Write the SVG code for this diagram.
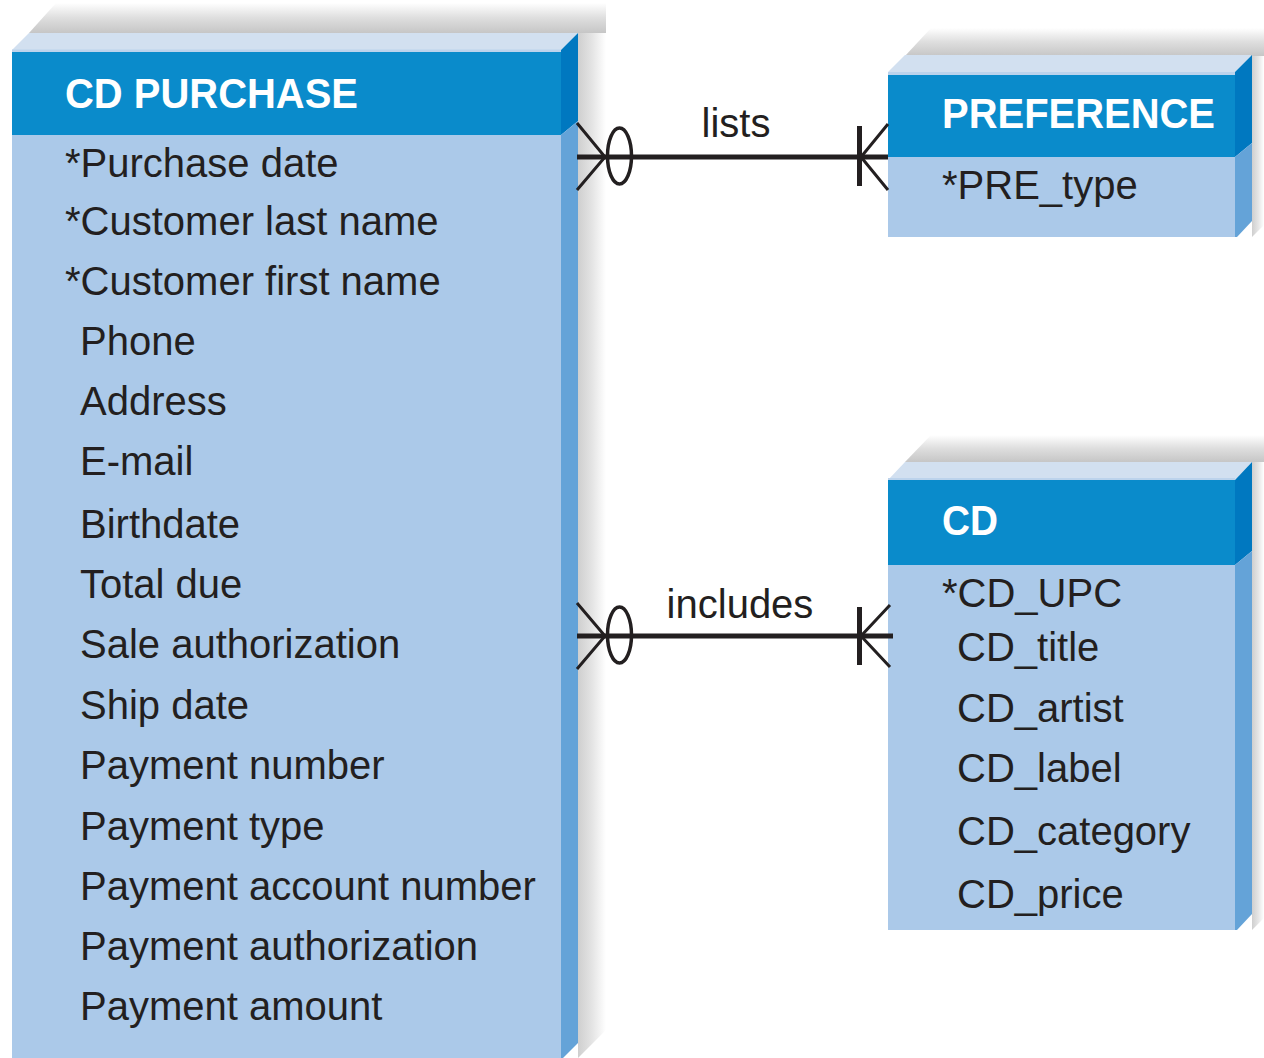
<svg xmlns="http://www.w3.org/2000/svg" width="1264" height="1058" viewBox="0 0 1264 1058">
<defs>
<linearGradient id="shTop" x1="0" y1="1" x2="0" y2="0">
<stop offset="0" stop-color="#c6c6c6"/>
<stop offset="0.5" stop-color="#dedede"/>
<stop offset="1" stop-color="#ffffff"/>
</linearGradient>
<linearGradient id="shRight" x1="0" y1="0" x2="1" y2="0">
<stop offset="0" stop-color="#cfcfcf"/>
<stop offset="0.5" stop-color="#e4e4e4"/>
<stop offset="1" stop-color="#ffffff"/>
</linearGradient>
<style>
.top{fill:#d2e0f0}
.seam{fill:#bcd3ec}
.hdr{fill:#0a8bcb}
.body{fill:#abc9e9}
.sideD{fill:#0078c0}
.sideL{fill:#64a3d8}
.shT{fill:url(#shTop)}
.shR{fill:url(#shRight)}
.title{font-family:"Liberation Sans",Arial,sans-serif;font-weight:bold;font-size:42px;fill:#ffffff}
.attr{font-family:"Liberation Sans",Arial,sans-serif;font-size:40px;fill:#231f20}
.lbl{font-family:"Liberation Sans",Arial,sans-serif;font-size:40px;fill:#231f20;text-anchor:middle}
.ln{stroke:#231f20;stroke-width:5;fill:none}
.ft{stroke:#231f20;stroke-width:3;fill:none}
.ov{stroke:#231f20;stroke-width:3.5;fill:none}
</style>
</defs>
<rect width="1264" height="1058" fill="#ffffff"/>

<g id="cd-purchase">
<polygon class="shT" points="29,33 56,3 606,3 606,33"/>
<polygon class="shR" points="578,33 606,33 606,1030 578,1058"/>
<polygon class="top" points="12,50 29,33 578,33 561,50"/>
<rect class="seam" x="12" y="49.5" width="549" height="2.5"/>
<rect class="hdr" x="12" y="52" width="549" height="83"/>
<rect class="body" x="12" y="135" width="549" height="923"/>
<polygon class="sideD" points="561,50 578,33 578,121 561,135"/>
<polygon class="sideL" points="561,135 578,121 578,1043 563,1058 561,1058"/>
<text class="title" x="65" y="108" textLength="293" lengthAdjust="spacingAndGlyphs">CD PURCHASE</text>
<text class="attr" x="65" y="177">*Purchase date</text>
<text class="attr" x="65" y="235">*Customer last name</text>
<text class="attr" x="65" y="295">*Customer first name</text>
<text class="attr" x="80" y="355">Phone</text>
<text class="attr" x="80" y="415">Address</text>
<text class="attr" x="80" y="475">E-mail</text>
<text class="attr" x="80" y="538">Birthdate</text>
<text class="attr" x="80" y="598">Total due</text>
<text class="attr" x="80" y="658">Sale authorization</text>
<text class="attr" x="80" y="719">Ship date</text>
<text class="attr" x="80" y="779">Payment number</text>
<text class="attr" x="80" y="840">Payment type</text>
<text class="attr" x="80" y="900">Payment account number</text>
<text class="attr" x="80" y="960">Payment authorization</text>
<text class="attr" x="80" y="1020">Payment amount</text>
</g>

<g id="preference">
<polygon class="shT" points="905,56 931,28 1264,28 1264,56"/>
<polygon class="shR" points="1252,56 1264,56 1264,225 1252,237"/>
<polygon class="top" points="888,72 905,55 1252,55 1235,72"/>
<rect class="seam" x="888" y="72" width="347" height="3"/>
<rect class="hdr" x="888" y="75" width="347" height="82"/>
<rect class="body" x="888" y="157" width="347" height="80"/>
<polygon class="sideD" points="1235,72 1252,55 1252,143 1235,157"/>
<polygon class="sideL" points="1235,157 1252,143 1252,221 1237,237 1235,237"/>
<text class="title" x="942" y="128" textLength="273" lengthAdjust="spacingAndGlyphs">PREFERENCE</text>
<text class="attr" x="942" y="199">*PRE_type</text>
</g>

<g id="cd">
<polygon class="shT" points="905,462 931,435 1264,435 1264,462"/>
<polygon class="shR" points="1252,462 1264,462 1264,918 1252,930"/>
<polygon class="top" points="888,480 905,462 1252,462 1235,480"/>
<rect class="seam" x="888" y="478" width="347" height="3"/>
<rect class="hdr" x="888" y="480" width="347" height="85"/>
<rect class="body" x="888" y="565" width="347" height="365"/>
<polygon class="sideD" points="1235,480 1252,462 1252,551 1235,565"/>
<polygon class="sideL" points="1235,565 1252,551 1252,914 1237,930 1235,930"/>
<text class="title" x="942" y="535" textLength="56" lengthAdjust="spacingAndGlyphs">CD</text>
<text class="attr" x="942" y="607">*CD_UPC</text>
<text class="attr" x="957" y="661">CD_title</text>
<text class="attr" x="957" y="722">CD_artist</text>
<text class="attr" x="957" y="782">CD_label</text>
<text class="attr" x="957" y="845">CD_category</text>
<text class="attr" x="957" y="908">CD_price</text>
</g>

<g id="connectors">
<g id="lists">
<line class="ln" x1="577" y1="157" x2="888" y2="157"/>
<polyline class="ft" points="577,123 605,157 577,190"/>
<ellipse class="ov" cx="619.5" cy="156" rx="12" ry="28"/>
<line class="ln" x1="859.5" y1="126" x2="859.5" y2="186"/>
<polyline class="ft" points="888,124 861,157 888,190"/>
<text class="lbl" x="736" y="137">lists</text>
</g>
<g id="includes">
<line class="ln" x1="577" y1="636" x2="893" y2="636"/>
<polyline class="ft" points="577,603 605,636 577,669"/>
<ellipse class="ov" cx="619.5" cy="635" rx="12" ry="28"/>
<line class="ln" x1="859.5" y1="607" x2="859.5" y2="665"/>
<polyline class="ft" points="890,605 861,636 890,667"/>
<text class="lbl" x="740" y="618">includes</text>
</g>
</g>
</svg>
